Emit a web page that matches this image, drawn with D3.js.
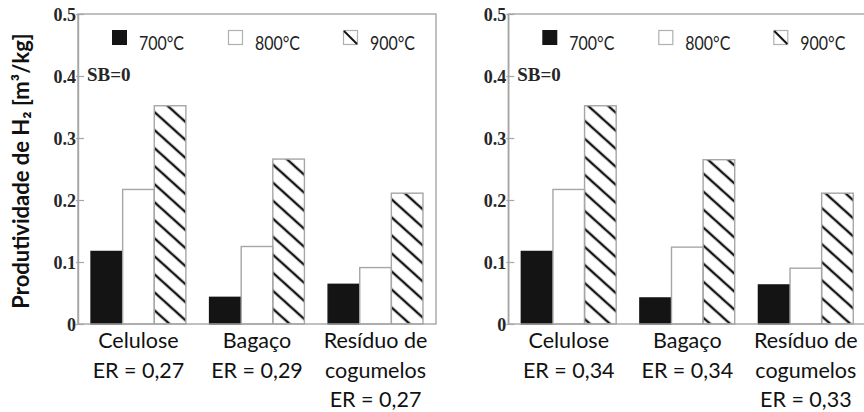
<!DOCTYPE html>
<html>
<head>
<meta charset="utf-8">
<script src="https://cdn.jsdelivr.net/npm/d3@7/dist/d3.min.js"></script>
<style>
  html, body { margin: 0; padding: 0; background: #fff; }
  svg { display: block; }
</style>
</head>
<body>
<svg id="chart" width="864" height="412"></svg>
<script>
// Biomass feedstocks (two lines / three lines of label each)
const categories = ["Celulose", "Bagaço", "Resíduo de cogumelos"];
const catLabelsLeft = [["Celulose", "ER = 0,27"], ["Bagaço", "ER = 0,29"], ["Resíduo de", "cogumelos", "ER = 0,27"]];
const catLabelsRight = [["Celulose", "ER = 0,34"], ["Bagaço", "ER = 0,34"], ["Resíduo de", "cogumelos", "ER = 0,33"]];

// Temperatures (series)
const seriesNames = ["700°C", "800°C", "900°C"];

// H2 yield [m3/kg] per feedstock — left panel
const left700 = [0.117, 0.043, 0.064];
const left800 = [0.217, 0.125, 0.091];
const left900 = [0.352, 0.266, 0.211];

// H2 yield [m3/kg] per feedstock — right panel
const right700 = [0.117, 0.042, 0.063];
const right800 = [0.217, 0.124, 0.090];
const right900 = [0.352, 0.265, 0.211];

// Y axis ticks
const yTicks = [0, 0.1, 0.2, 0.3, 0.4, 0.5];
const yTickLabels = ["0", "0.1", "0.2", "0.3", "0.4", "0.5"];
const panelNote = "SB=0";
const yTitle = "Produtividade de H₂ [m³/kg]";

const svg = d3.select("#chart");
const defs = svg.append("defs");

// diagonal hatch for the 900 °C bars
defs.append("pattern")
  .attr("id", "hatch")
  .attr("patternUnits", "userSpaceOnUse")
  .attr("width", 20).attr("height", 13.4)
  .attr("patternTransform", "rotate(42)")
  .append("line")
  .attr("x1", -2).attr("x2", 22)
  .attr("y1", 6.7).attr("y2", 6.7)
  .attr("stroke", "#151515").attr("stroke-width", 2.4);

const frameColor = "#a6a6a6";
const plotTop = 14, plotBottom = 324, panelW = 358;

const y = d3.scaleLinear().domain([0, 0.5]).range([plotBottom, plotTop]);

function drawPanel(x0, v700, v800, v900, labels) {
  const g = svg.append("g");
  const x = d3.scaleBand().domain(categories)
    .range([x0, x0 + panelW]).paddingInner(0.2).paddingOuter(0.11);
  const xs = d3.scaleBand().domain(seriesNames).range([0, x.bandwidth()]);

  const rows = categories.map((c, i) => ({ cat: c, vals: [v700[i], v800[i], v900[i]] }));
  const fills = ["#141414", "#ffffff", "url(#hatch)"];
  const strokes = ["#141414", frameColor, frameColor];

  // bars
  rows.forEach(r => {
    g.selectAll(null).data(r.vals).enter().append("rect")
      .attr("x", (d, j) => x(r.cat) + xs(seriesNames[j]))
      .attr("y", d => y(d))
      .attr("width", xs.bandwidth())
      .attr("height", d => y(0) - y(d))
      .attr("fill", (d, j) => fills[j])
      .attr("stroke", (d, j) => strokes[j])
      .attr("stroke-width", 1.4);
  });

  // frame
  g.append("rect")
    .attr("x", x0).attr("y", plotTop)
    .attr("width", panelW).attr("height", plotBottom - plotTop)
    .attr("fill", "none").attr("stroke", frameColor).attr("stroke-width", 1.4);

  // y axis
  const axis = d3.axisLeft(y).tickValues(yTicks)
    .tickFormat((d, i) => yTickLabels[i])
    .tickSizeInner(-6).tickSizeOuter(0).tickPadding(2);
  const ag = g.append("g").attr("transform", `translate(${x0},0)`).call(axis);
  ag.select(".domain").attr("stroke", frameColor).attr("stroke-width", 1.4);
  ag.selectAll(".tick line").attr("stroke", frameColor).attr("stroke-width", 1.2)
    .attr("x1", -2);
  ag.selectAll(".tick text")
    .attr("font-family", "'Liberation Serif', 'DejaVu Serif', serif")
    .attr("font-weight", "bold").attr("font-size", 18).attr("fill", "#262626")
    .attr("dy", "0.34em");

  // panel note
  g.append("text").attr("x", x0 + 9).attr("y", y(0.4) + 5)
    .attr("font-family", "'Liberation Serif', serif").attr("font-weight", "bold")
    .attr("font-size", 19).attr("fill", "#262626").text(panelNote);

  // legend
  const legX = [34, 150, 265];
  seriesNames.forEach((s, j) => {
    const lx = x0 + legX[j];
    if (j === 0) {
      g.append("rect").attr("x", lx).attr("y", 30).attr("width", 15).attr("height", 15)
        .attr("fill", "#141414");
    } else {
      g.append("rect").attr("x", lx + 0.5).attr("y", 30.5).attr("width", 14).attr("height", 14)
        .attr("fill", "#fff").attr("stroke", "#b0b0b0").attr("stroke-width", 1.2);
      if (j === 2) {
        g.append("line").attr("x1", lx + 1).attr("y1", 31).attr("x2", lx + 14).attr("y2", 44)
          .attr("stroke", "#151515").attr("stroke-width", 2);
      }
    }
    g.append("text").attr("x", lx + 27).attr("y", 49.5)
      .attr("font-family", "'Liberation Sans Narrow', 'Lato', sans-serif")
      .attr("font-size", 20).attr("fill", "#222")
      .attr("textLength", 45).attr("lengthAdjust", "spacingAndGlyphs")
      .text(s);
  });

  // category labels
  categories.forEach((c, i) => {
    const cx = x(c) + x.bandwidth() / 2;
    labels[i].forEach((line, k) => {
      g.append("text").attr("x", cx).attr("y", 348 + k * 29.5)
        .attr("text-anchor", "middle")
        .attr("font-family", "Lato, 'Open Sans', sans-serif")
        .attr("font-size", 21.5).attr("fill", "#111").text(line);
    });
  });
}

drawPanel(78, left700, left800, left900, catLabelsLeft);
drawPanel(508.3, right700, right800, right900, catLabelsRight);

// shared y title
svg.append("text")
  .attr("transform", `translate(29,${(plotTop + plotBottom) / 2 + 2}) rotate(-90)`)
  .attr("text-anchor", "middle")
  .attr("font-family", "Lato, 'Open Sans', sans-serif")
  .attr("font-weight", "bold").attr("font-size", 22).attr("fill", "#111")
  .text(yTitle);
</script>
</body>
</html>
